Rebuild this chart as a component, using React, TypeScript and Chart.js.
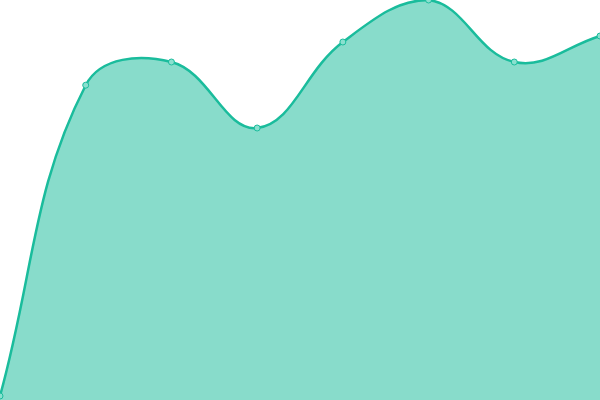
import React, { useEffect, useRef } from 'react';
import { Chart, registerables } from 'chart.js';

Chart.register(...registerables);

const labels = ['A', 'B', 'C', 'D', 'E', 'F', 'G', 'H'];
const values = [1, 78.7, 84.5, 68, 89.5, 100, 84.5, 91];
const yMin = 0;
const yMax = 100;

// Chart.js pads the chart area by half the point size (radius 4 hover + 1 border)
const overflow = 5;

const App: React.FC = () => {
  const canvasRef = useRef<HTMLCanvasElement>(null);

  useEffect(() => {
    document.body.style.margin = '0';
    document.body.style.overflow = 'hidden';
    if (!canvasRef.current) return;
    const chart = new Chart(canvasRef.current, {
      type: 'line',
      data: {
        labels,
        datasets: [{
          data: values,
          fill: 'origin',
          backgroundColor: 'rgba(26, 188, 156, 0.52)',
          borderColor: '#1abc9c',
          borderWidth: 2.5,
          tension: 0.4,
          pointRadius: 3,
          pointHoverRadius: 4,
          pointBorderWidth: 1,
          pointBackgroundColor: 'rgba(138, 224, 207, 1)',
          pointBorderColor: '#1abc9c',
        }],
      },
      options: {
        animation: false,
        responsive: false,
        maintainAspectRatio: false,
        layout: { padding: 0 },
        plugins: { legend: { display: false }, tooltip: { enabled: false } },
        scales: {
          x: { display: false, offset: false },
          y: { display: false, min: yMin, max: yMax },
        },
      },
    });
    return () => chart.destroy();
  }, []);

  const w = 600 + overflow * 2;
  const h = 400 + overflow * 2;

  return (
    <div style={{ position: 'fixed', left: 0, top: 0, width: 600, height: 400, overflow: 'hidden' }}>
      <canvas
        ref={canvasRef}
        width={w}
        height={h}
        style={{ position: 'absolute', left: -overflow, top: -overflow, width: w, height: h }}
      />
    </div>
  );
};

export default App;
